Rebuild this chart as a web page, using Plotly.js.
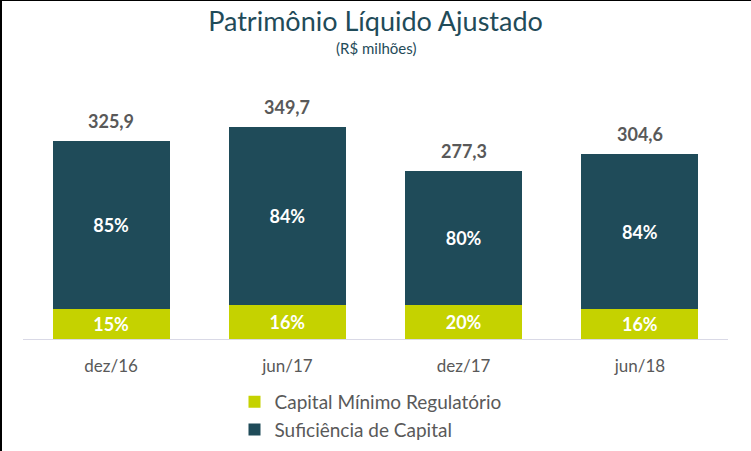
<!DOCTYPE html>
<html>
<head>
<meta charset="utf-8">
<script src="https://cdn.plot.ly/plotly-3.0.1.min.js"></script>
<style>
html,body{margin:0;padding:0;background:#fff;}
#wrap{position:relative;width:751px;height:451px;}
#chart{width:751px;height:451px;}
#bl{position:absolute;left:0;top:0;width:2px;height:451px;background:#000;}
#bt{position:absolute;left:0;top:0;width:751px;height:1px;background:#000;}
</style>
</head>
<body>
<div id="wrap"><div id="chart"></div><div id="bl"></div><div id="bt"></div></div>
<script>
const categories = ["dez/16", "jun/17", "dez/17", "jun/18"];
const capitalMinimo = [48.9, 56.0, 55.5, 48.7];
const suficiencia = [277.0, 293.7, 221.8, 255.9];
const totals = [325.9, 349.7, 277.3, 304.6];
const totalLabels = ["325,9", "349,7", "277,3", "304,6"];
const pctMinimo = ["15%", "16%", "20%", "16%"];
const pctSuficiencia = ["85%", "84%", "80%", "84%"];

const FONT = "Lato, 'Open Sans', sans-serif";
const GREEN = "#c5d200";
const TEAL = "#1f4b59";
const GRAY = "#595959";

const traces = [
  {
    type: "bar", name: "Capital Mínimo Regulatório",
    x: categories, y: capitalMinimo, text: pctMinimo,
    marker: {color: GREEN},
    textposition: "inside", insidetextanchor: "middle", constraintext: "none",
    textfont: {color: "#ffffff", size: 18, family: FONT, weight: "bold"},
    hoverinfo: "skip"
  },
  {
    type: "bar", name: "Suficiência de Capital",
    x: categories, y: suficiencia, text: pctSuficiencia,
    marker: {color: TEAL},
    textposition: "inside", insidetextanchor: "middle", constraintext: "none",
    textfont: {color: "#ffffff", size: 18, family: FONT, weight: "bold"},
    hoverinfo: "skip"
  }
];

const annotations = categories.map((c, i) => ({
  x: c, y: totals[i], xref: "x", yref: "y",
  text: totalLabels[i], showarrow: false,
  yanchor: "bottom", yshift: 7,
  font: {family: FONT, size: 18, color: GRAY, weight: "bold"}
}));
annotations.push({
  xref: "paper", yref: "paper", x: 0.5, y: (339 - 48) / 259, yanchor: "middle",
  text: "(R$ milhões)", showarrow: false,
  font: {family: FONT, size: 15, color: "#1f4b59"}
});

const layout = {
  width: 751, height: 451,
  margin: {l: 23, r: 23, t: 80, b: 112},
  paper_bgcolor: "#ffffff", plot_bgcolor: "#ffffff",
  barmode: "stack", bargap: 0.335,
  title: {
    text: "Patrimônio Líquido Ajustado",
    x: 0.5, xref: "paper", y: 1 - 22/451, yref: "container", yanchor: "middle",
    font: {family: FONT, size: 27, color: "#1f4b59"}
  },
  xaxis: {
    type: "category", showline: true, linecolor: "#d9d9e6", linewidth: 1,
    ticks: "", ticklabelstandoff: 12, tickfont: {family: FONT, size: 17, color: GRAY},
    showgrid: false, zeroline: false, fixedrange: true, automargin: false
  },
  yaxis: {
    range: [0, 427], visible: false, showgrid: false, zeroline: false, fixedrange: true
  },
  showlegend: true,
  legend: {
    orientation: "v", traceorder: "normal",
    x: 0.30, xanchor: "left", yref: "container", y: 1 - 383/451, yanchor: "top",
    font: {family: FONT, size: 19, color: GRAY},
    itemclick: false, itemdoubleclick: false, tracegroupgap: 0
  },
  annotations: annotations
};

Plotly.newPlot("chart", traces, layout, {displayModeBar: false, staticPlot: true});
</script>
</body>
</html>
